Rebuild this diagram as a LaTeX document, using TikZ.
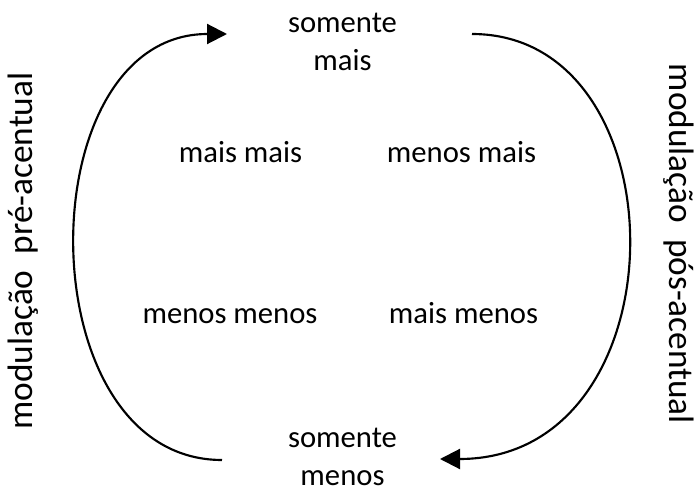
\documentclass[tikz,border=0pt]{standalone}
\usepackage{fontspec}
\setmainfont{Carlito}
\usepackage{tikz}
\usetikzlibrary{arrows.meta}

\begin{document}
\begin{tikzpicture}[x=0.75pt, y=-0.75pt,
    testo/.style = {font=\fontsize{23}{28.5}\selectfont, inner sep=0pt},
    laterale/.style = {font=\fontsize{26.5}{32}\selectfont, inner sep=0pt, anchor=base},
    arco/.style = {line width=1.6pt, -{Triangle[length=15pt, width=15pt]}}]
    % Parametri
    \pgfmathsetmacro{\cSx}{26}
    \pgfmathsetmacro{\cDx}{685}
    \useasboundingbox (0,0) rectangle (694,492);
    % Testi
    \node[testo, align=center] (sopra) at (342.5,42) {somente\\mais};
    \node[testo, align=center] (sotto) at (342.5,457) {somente\\menos};
    \node[testo, anchor=base] (maismais) at (240.5,163) {mais mais};
    \node[testo, anchor=base] (menosmais) at (461.5,163) {menos mais};
    \node[testo, anchor=base] (menosmenos) at (230,324) {menos menos};
    \node[testo, anchor=base] (maismenos) at (463.5,324) {mais menos};
    \node[laterale, rotate=90] (pre) at (32,251) {modula\c{c}\~ao\ \ pr\'e-acentual};
    \node[laterale, rotate=-90] (pos) at (669,244) {modula\c{c}\~ao\ \ p\'os-acentual};
    % Estremi delle curve
    \coordinate (sinA) at (222,460);
    \coordinate (sinB) at (227,34);
    \coordinate (desA) at (472,34);
    \coordinate (desB) at (440,459);
    % Curve
    \draw[arco] (sinA) .. controls (\cSx,460) and (\cSx,34) .. (sinB);
    \draw[arco] (desA) .. controls (\cDx,34) and (\cDx,459) .. (desB);
\end{tikzpicture}
\end{document}
